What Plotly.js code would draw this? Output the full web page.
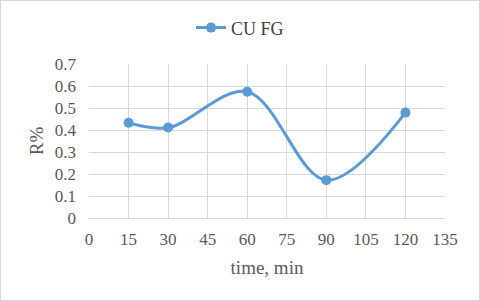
<!DOCTYPE html>
<html><head><meta charset="utf-8">
<script src="https://cdn.plot.ly/plotly-3.0.1.min.js"></script>
<style>html,body{margin:0;padding:0;background:#fff}#c{width:478px;height:299px;border:1px solid #d9d9d9}</style>
</head><body><div id="c"></div>
<script>
const times = [15, 30, 60, 90, 120];
const values = [0.433, 0.411, 0.574, 0.172, 0.479];
const seriesName = 'CU FG';
const xTicks = [0, 15, 30, 45, 60, 75, 90, 105, 120, 135];
const yTicks = [0, 0.1, 0.2, 0.3, 0.4, 0.5, 0.6, 0.7];
const fam = 'Liberation Serif, Times New Roman, serif';
Plotly.newPlot('c', [{
  x: times, y: values, name: seriesName, type: 'scatter', mode: 'lines+markers',
  line: {color: '#5b9bd5', width: 3, shape: 'spline', smoothing: 1},
  marker: {color: '#5b9bd5', size: 10}
}], {
  width: 478, height: 299,
  margin: {l: 88, r: 34, t: 63, b: 82},
  paper_bgcolor: '#fff', plot_bgcolor: '#fff',
  showlegend: true,
  legend: {orientation: 'h', x: 0.5, xanchor: 'center', xref: 'container', y: 0.91, yref: 'container', yanchor: 'middle',
    font: {family: fam, size: 18, color: '#404040'}},
  xaxis: {range: [0, 135], tickvals: xTicks, ticktext: xTicks.map(String), showgrid: true, gridcolor: '#d9d9d9', zeroline: false,
    showline: true, linecolor: '#d9d9d9', ticks: '', ticklabelstandoff: 6, tickfont: {family: fam, size: 17, color: '#595959'},
    title: {text: 'time, min', font: {family: fam, size: 19, color: '#595959'}, standoff: 12}},
  yaxis: {range: [0, 0.7], tickvals: yTicks, ticktext: yTicks.map(String), showgrid: true, gridcolor: '#d9d9d9', zeroline: false,
    showline: false, ticks: '', ticklabelstandoff: 12, tickfont: {family: fam, size: 17, color: '#595959'},
    title: {text: 'R%', font: {family: fam, size: 19, color: '#595959'}, standoff: 6}}
}, {displayModeBar: false, staticPlot: true});
</script></body></html>
